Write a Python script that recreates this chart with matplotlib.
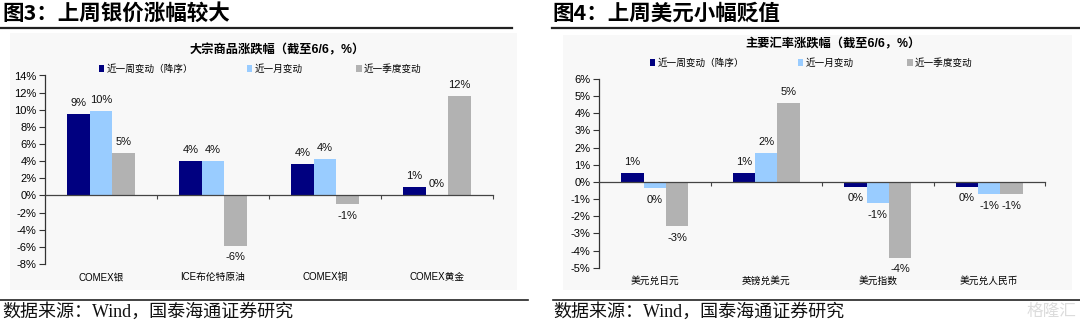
import matplotlib
matplotlib.use("Agg")
import matplotlib.pyplot as plt
from matplotlib.patches import Rectangle, Patch
from matplotlib.lines import Line2D
import numpy as np

plt.rcParams['font.family'] = ['Liberation Sans', 'Noto Sans CJK SC', 'DejaVu Sans']

W, H = 1080, 323

# 图3 大宗商品
cats_l = ['COMEX银', 'ICE布伦特原油', 'COMEX铜', 'COMEX黄金']
week_l = [9.45, 4.03, 3.65, 0.93]
month_l = [9.80, 4.00, 4.23, 0.05]
quarter_l = [4.95, -5.85, -0.97, 11.55]

# 图4 主要汇率
cats_r = ['美元兑日元', '英镑兑美元', '美元指数', '美元兑人民币']
week_r = [0.54, 0.54, -0.27, -0.27]
month_r = [-0.37, 1.67, -1.22, -0.73]
quarter_r = [-2.57, 4.62, -4.41, -0.70]

series_names = ['近一周变动（降序）', '近一月变动', '近一季度变动']
colors = ['#000080', '#99CCFF', '#B2B2B2']


def fx(px):
    return px / W


def fy(py):
    return 1 - py / H


def hline(fig, x0, x1, y, lw):
    fig.add_artist(Line2D([fx(x0), fx(x1)], [fy(y), fy(y)], color='#222222',
                          lw=lw, transform=fig.transFigure))


def draw_chart(fig, rect, cats, series, yticks, title, title_xy, legend_xy):
    ax = fig.add_axes(rect)
    ax.set_facecolor('none')
    x = np.arange(len(cats))
    w = 0.2
    for i, (vals, c) in enumerate(zip(series, colors)):
        pos = x + (i - 1) * w
        ax.bar(pos, vals, w, color=c, edgecolor='none', zorder=2)
        for p, v in zip(pos, vals):
            txt = '%d%%' % int(round(v))
            off = 8 if v >= 0 else -8.5
            ax.annotate(txt, (p, v), xytext=(0, off), textcoords='offset points',
                        ha='center', va='center', fontsize=8, color='#111111')
    ax.set_xlim(-0.5, len(cats) - 0.5)
    ax.set_ylim(yticks[0], yticks[-1])
    ax.set_yticks(yticks)
    ax.set_yticklabels(['%d%%' % t for t in yticks], fontsize=8)
    for s in ['top', 'right']:
        ax.spines[s].set_visible(False)
    ax.spines['left'].set_color('#333333')
    ax.spines['left'].set_linewidth(0.9)
    ax.spines['bottom'].set_position(('data', 0))
    ax.spines['bottom'].set_color('#444444')
    ax.spines['bottom'].set_linewidth(0.9)
    ax.tick_params(axis='y', length=4, width=0.8, color='#333333', pad=2)
    ax.set_xticks(x + 0.5, minor=True)
    ax.set_xticks([])
    ax.tick_params(axis='x', which='minor', length=3, width=0.8, color='#444444')
    ax.tick_params(axis='x', which='minor', labelbottom=False)
    sec = ax.secondary_xaxis('bottom')
    sec.set_xticks(x)
    sec.set_xticklabels(cats, fontsize=7)
    sec.tick_params(length=0, pad=6)
    sec.spines['bottom'].set_visible(False)

    fig.text(title_xy[0], title_xy[1], title, ha='center', va='center',
             fontsize=8.8, fontweight='bold', family=['Liberation Sans', 'Noto Sans CJK SC'])
    handles = [Patch(facecolor=c, edgecolor='none') for c in colors]
    fig.legend(handles, series_names, loc='center', bbox_to_anchor=legend_xy,
               ncol=3, frameon=False, handlelength=0.6,
               handleheight=0.6, handletextpad=0.2, columnspacing=5.6,
               prop={'family': ['Noto Sans CJK SC'], 'size': 6.9})
    return ax


fig = plt.figure(figsize=(W / 100, H / 100), dpi=100)
fig.patch.set_facecolor('white')

# chart backgrounds
fig.add_artist(Rectangle((fx(10), fy(290)), fx(517) - fx(10), fy(33) - fy(290),
                         transform=fig.transFigure, facecolor='#f8f8f8',
                         edgecolor='none', zorder=0))
fig.add_artist(Rectangle((fx(563), fy(290)), fx(1072) - fx(563), fy(35) - fy(290),
                         transform=fig.transFigure, facecolor='#f8f8f8',
                         edgecolor='none', zorder=0))

# headers and rules
head_font = ['Noto Sans CJK SC', 'DejaVu Sans']
fig.text(fx(2), fy(13), '图3：上周银价涨幅较大', fontsize=15.5, fontweight='bold',
         ha='left', va='center', family=head_font)
fig.text(fx(552), fy(13), '图4：上周美元小幅贬值', fontsize=15.5, fontweight='bold',
         ha='left', va='center', family=head_font)
hline(fig, 0, 512, 27.5, 1.6)
hline(fig, 552, 1080, 27.5, 1.6)
hline(fig, 0, 528, 299.5, 1.2)
hline(fig, 553, 1080, 299.5, 1.2)
src_font = ['Liberation Serif', 'Noto Sans CJK SC']
fig.text(fx(2), fy(312), '数据来源：Wind，国泰海通证券研究', fontsize=13,
         ha='left', va='center', family=src_font, color='#111111')
fig.text(fx(553), fy(312), '数据来源：Wind，国泰海通证券研究', fontsize=13,
         ha='left', va='center', family=src_font, color='#111111')
fig.text(fx(1076), fy(311), '格隆汇', fontsize=12, ha='right', va='center',
         family=head_font, color='#dcdcdc')

draw_chart(fig, [fx(45), fy(264), fx(493) - fx(45), fy(75.5) - fy(264)],
           cats_l, [week_l, month_l, quarter_l], list(range(-8, 15, 2)),
           '大宗商品涨跌幅（截至6/6，%）', (fx(277), fy(50)), (fx(260), fy(69)))
draw_chart(fig, [fx(599), fy(267.7), fx(1045) - fx(599), fy(79) - fy(267.7)],
           cats_r, [week_r, month_r, quarter_r], list(range(-5, 7)),
           '主要汇率涨跌幅（截至6/6，%）', (fx(833), fy(44)), (fx(811), fy(63)))

fig.savefig('out.png', dpi=100)
